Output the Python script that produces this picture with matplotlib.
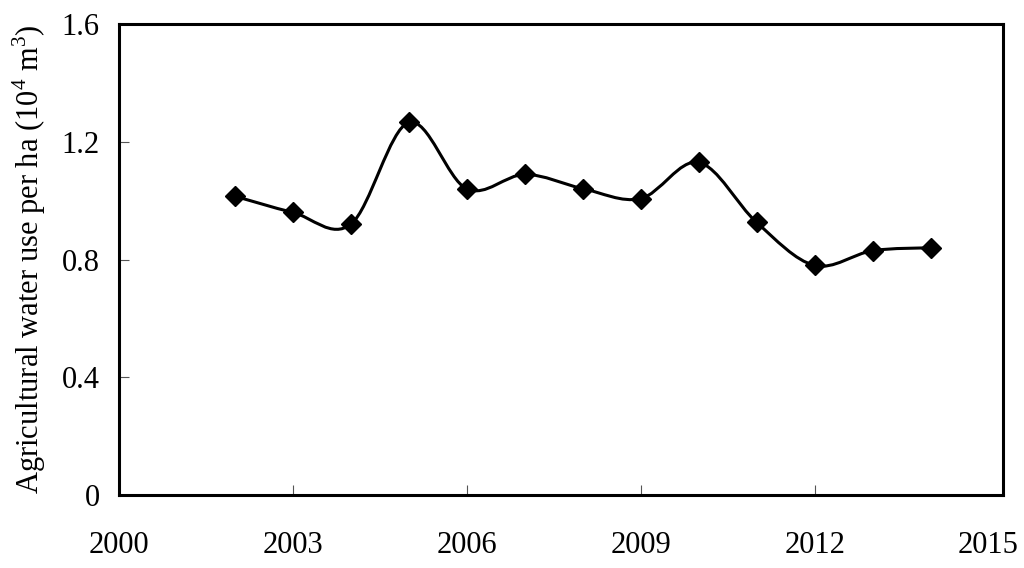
import matplotlib
matplotlib.use('Agg')
import matplotlib.pyplot as plt
from matplotlib.path import Path
from matplotlib.patches import PathPatch
import numpy as np

years = [2002, 2003, 2004, 2005, 2006, 2007, 2008, 2009, 2010, 2011, 2012, 2013, 2014]
water_use = [1.015, 0.96, 0.92, 1.266, 1.04, 1.089, 1.041, 1.007, 1.13, 0.926, 0.78, 0.83, 0.84]
x_ticks = [2000, 2003, 2006, 2009, 2012, 2015]
y_ticks = [0, 0.4, 0.8, 1.2, 1.6]
y_tick_labels = ['0', '0.4', '0.8', '1.2', '1.6']

plt.rcParams['font.family'] = ['Liberation Serif', 'DejaVu Serif']
plt.rcParams['mathtext.fontset'] = 'custom'
plt.rcParams['mathtext.rm'] = 'Liberation Serif'

fig = plt.figure(figsize=(10.24, 5.68), dpi=100)
ax = fig.add_axes([0.1162, 0.1285, 0.8633, 0.8292])

# smoothed line like a spreadsheet "smoothed line" (cubic bezier through points)
pts = np.column_stack([years, water_use])
verts = [pts[0]]
codes = [Path.MOVETO]
n = len(pts)
for i in range(n - 1):
    p0 = pts[i - 1] if i > 0 else pts[i]
    p1 = pts[i]
    p2 = pts[i + 1]
    p3 = pts[i + 2] if i + 2 < n else pts[i + 1]
    c1 = p1 + (p2 - p0) / 6.0
    c2 = p2 - (p3 - p1) / 6.0
    verts += [c1, c2, p2]
    codes += [Path.CURVE4] * 3
ax.add_patch(PathPatch(Path(verts, codes), facecolor='none', edgecolor='black', lw=2.2, zorder=2))
ax.plot(years, water_use, linestyle='none', marker='D', markersize=10.5, color='black', zorder=3)

ax.set_xlim(2000, 2015.25)
ax.set_ylim(0, 1.6)
ax.set_xticks(x_ticks)
ax.set_yticks(y_ticks)
ax.set_yticklabels(y_tick_labels)
ax.tick_params(direction='in', length=7, width=0.8, color='#555555', labelsize=22, pad=14)
ax.tick_params(axis='x', pad=26)
ax.xaxis.get_major_ticks()[-1].tick1line.set_visible(False)
for s in ax.spines.values():
    s.set_linewidth(2.2)
ax.set_ylabel('Agricultural water use per ha (10$^4$ m$^3$)', fontsize=22, labelpad=10)

fig.savefig('out.png', dpi=100)
